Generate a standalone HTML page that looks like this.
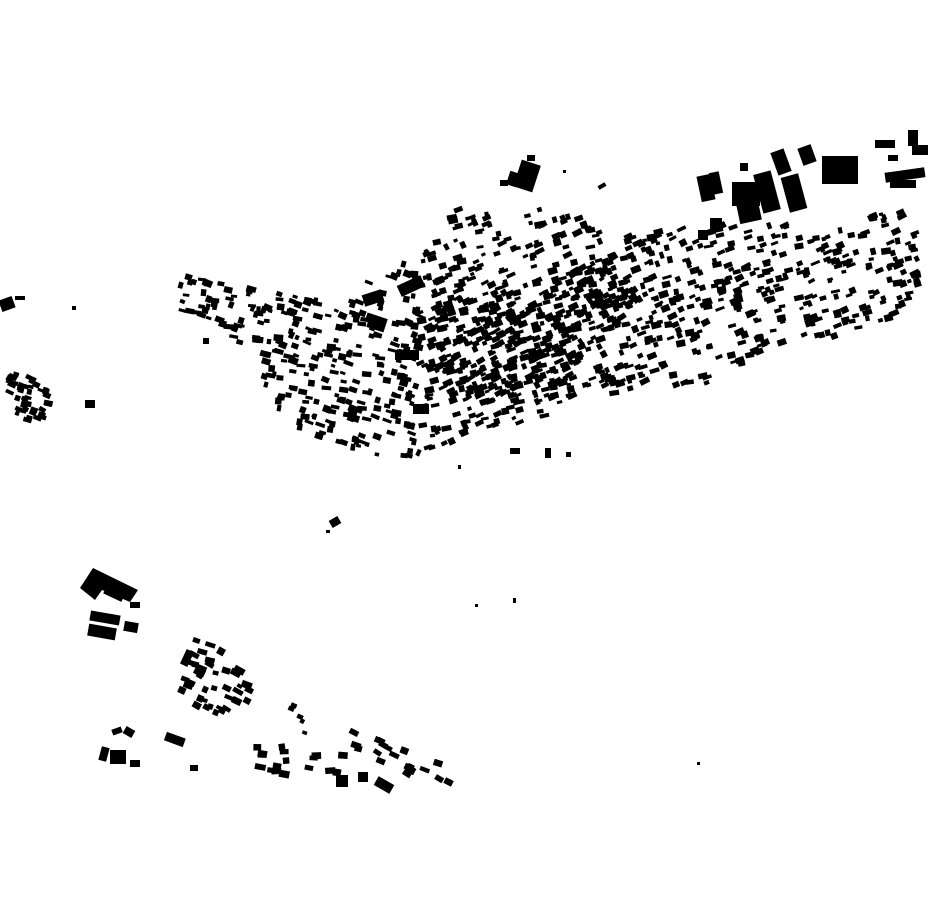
<!DOCTYPE html>
<html><head><meta charset="utf-8"><style>
html,body{margin:0;padding:0;background:#fff;}
svg{display:block;}
</style></head><body>
<svg id="s" width="930" height="924" viewBox="0 0 930 924" xmlns="http://www.w3.org/2000/svg">
<g fill="#000" id="g">
<!-- top-right industrial -->
<rect x="699" y="175" width="14" height="26" transform="rotate(-12 706 188)"/>
<rect x="711" y="172" width="10" height="22" transform="rotate(-12 716 183)"/>
<rect x="732" y="182" width="28" height="24"/>
<rect x="738" y="202" width="22" height="20" transform="rotate(-12 749 212)"/>
<rect x="758" y="172" width="18" height="40" transform="rotate(-15 767 192)"/>
<rect x="774" y="150" width="14" height="24" transform="rotate(-20 781 162)"/>
<rect x="785" y="175" width="18" height="36" transform="rotate(-15 794 193)"/>
<rect x="800" y="146" width="14" height="18" transform="rotate(-20 807 155)"/>
<rect x="822" y="156" width="36" height="28"/>
<rect x="740" y="163" width="8" height="8"/>
<rect x="875" y="140" width="20" height="8"/>
<rect x="908" y="130" width="10" height="16"/>
<rect x="912" y="145" width="16" height="10"/>
<rect x="885" y="170" width="40" height="10" transform="rotate(-8 905 175)"/>
<rect x="890" y="180" width="26" height="8"/>
<rect x="888" y="155" width="10" height="6"/>
<rect x="710" y="218" width="12" height="12"/>
<rect x="698" y="230" width="10" height="10"/>
<!-- top cluster -->
<rect x="517" y="162" width="20" height="28" transform="rotate(18 527 176)"/>
<rect x="508" y="172" width="10" height="14" transform="rotate(18 513 179)"/>
<rect x="500" y="180" width="8" height="6"/>
<rect x="527" y="155" width="8" height="6"/>
<!-- big blocks in town -->
<rect x="363" y="292" width="20" height="12" transform="rotate(-18 373 298)"/>
<rect x="368" y="316" width="18" height="14" transform="rotate(18 377 323)"/>
<rect x="398" y="280" width="26" height="12" transform="rotate(-25 411 286)"/>
<rect x="395" y="350" width="24" height="10"/>
<rect x="413" y="404" width="16" height="10"/>
<!-- left cluster -->
<rect x="0" y="298" width="14" height="12" transform="rotate(-20 7 304)"/>
<rect x="15" y="296" width="10" height="4"/>
<rect x="85" y="400" width="10" height="8"/>
<rect x="72" y="306" width="4" height="4"/>
<rect x="203" y="338" width="6" height="6"/>
<!-- bottom-left -->
<polygon points="80,588 93,568 138,590 130,602 102,590 95,600"/>
<rect x="104" y="590" width="20" height="8" transform="rotate(25 114 594)"/>
<rect x="130" y="602" width="10" height="6"/>
<rect x="90" y="613" width="30" height="10" transform="rotate(10 105 618)"/>
<rect x="88" y="626" width="28" height="12" transform="rotate(10 102 632)"/>
<rect x="124" y="622" width="14" height="10" transform="rotate(10 131 627)"/>
<rect x="183" y="650" width="8" height="16" transform="rotate(25 187 658)"/>
<rect x="165" y="735" width="20" height="9" transform="rotate(20 175 739)"/>
<rect x="190" y="765" width="8" height="6"/>
<rect x="100" y="747" width="8" height="14" transform="rotate(15 104 754)"/>
<rect x="110" y="750" width="16" height="14"/>
<rect x="130" y="760" width="10" height="7"/>
<rect x="112" y="728" width="10" height="6" transform="rotate(-20 117 731)"/>
<rect x="124" y="728" width="10" height="8" transform="rotate(30 129 732)"/>
<rect x="375" y="780" width="18" height="10" transform="rotate(30 384 785)"/>
<rect x="336" y="775" width="12" height="12"/>
<rect x="358" y="772" width="10" height="10"/>
<rect x="330" y="518" width="10" height="8" transform="rotate(-30 335 522)"/>
<rect x="326" y="530" width="4" height="3"/>
<rect x="475" y="604" width="3" height="3"/>
<rect x="513" y="598" width="3" height="5"/>
<rect x="697" y="762" width="3" height="3"/>
<rect x="458" y="465" width="3" height="4"/>
<rect x="510" y="448" width="10" height="6"/>
<rect x="545" y="448" width="6" height="10"/>
<rect x="566" y="452" width="5" height="5"/>
<rect x="598" y="184" width="8" height="4" transform="rotate(-30 602 186)"/>
<rect x="563" y="170" width="3" height="3"/>
</g>
</svg>
<script>
(function(){
var seed=12345;function r(){seed=(seed*16807)%2147483647;return (seed-1)/2147483646;}
var g=document.getElementById('g');var NS='http://www.w3.org/2000/svg';
function inP(x,y,p){var c=false;for(var i=0,j=p.length-1;i<p.length;j=i++){var xi=p[i][0],yi=p[i][1],xj=p[j][0],yj=p[j][1];if(((yi>y)!=(yj>y))&&(x<(xj-xi)*(y-yi)/(yj-yi)+xi))c=!c;}return c;}
function fill(p,n,smin,smax,angF){var xs=p.map(function(a){return a[0]}),ys=p.map(function(a){return a[1]});var x0=Math.min.apply(0,xs),x1=Math.max.apply(0,xs),y0=Math.min.apply(0,ys),y1=Math.max.apply(0,ys);var k=0,t=0;while(k<n&&t<n*50){t++;var x=x0+r()*(x1-x0),y=y0+r()*(y1-y0);if(!inP(x,y,p))continue;k++;var w=smin+r()*(smax-smin),h=(smin+r()*(smax-smin))*0.7;var a=angF(x,y)+(r()-0.5)*20;var e=document.createElementNS(NS,'rect');e.setAttribute('x',(x-w/2).toFixed(1));e.setAttribute('y',(y-h/2).toFixed(1));e.setAttribute('width',w.toFixed(1));e.setAttribute('height',h.toFixed(1));e.setAttribute('transform','rotate('+a.toFixed(0)+' '+x.toFixed(1)+' '+y.toFixed(1)+')');g.appendChild(e);}}
function ang(x,y){return x<420?14:-18;}
// main town band
fill([[180,275],[260,290],[330,300],[420,255],[455,208],[545,205],[620,232],[700,225],[800,225],[918,205],[920,305],[850,335],[760,355],[700,388],[650,385],[600,400],[540,418],[470,438],[410,460],[385,462],[300,432],[248,385],[262,360],[205,318],[175,312]],1100,4,10,ang);
// denser center
fill([[430,300],[520,290],[620,250],[640,300],[600,360],[540,395],[470,410],[430,380]],250,4,10,function(x,y){return -25;});
// left cluster
fill([[8,372],[30,376],[55,390],[48,410],[35,425],[25,425],[8,400]],45,4,9,function(){return 20;});
// bottom-left groups
fill([[195,640],[230,650],[252,690],[240,718],[182,705],[180,690]],40,5,11,function(){return 22;});
fill([[290,700],[310,705],[305,735],[290,730]],6,4,7,function(){return 20;});
fill([[255,742],[340,745],[350,760],[260,762]],9,6,10,function(){return 0;});
fill([[255,764],[340,770],[340,782],[255,776]],8,7,11,function(){return 5;});
fill([[348,725],[380,740],[470,772],[465,790],[410,780],[350,745]],20,6,10,function(){return 25;});
})();
</script>
</body></html>
